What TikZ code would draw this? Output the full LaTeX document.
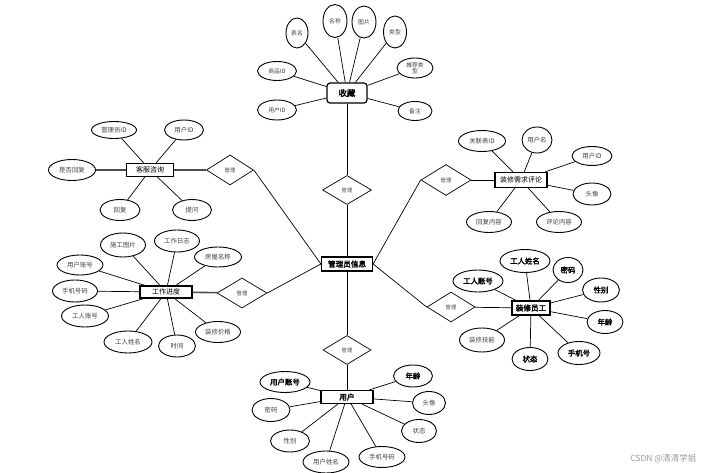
\documentclass[tikz,border=0pt]{standalone}
\usepackage{fontspec}
\setmainfont{Noto Sans CJK SC}[AutoFakeBold=2.5]
\usetikzlibrary{shapes.geometric}
\tikzset{
  el/.style={ellipse,draw=black,line width=0.9pt,inner sep=0pt,font=\fontsize{6.4}{7}\selectfont,text=black!75},
  elb/.style={el,font=\fontsize{7.4}{8}\selectfont\bfseries,text=black},
  ent/.style={rectangle,draw=black,line width=1.2pt,inner sep=0pt,font=\fontsize{7}{8}\selectfont,fill=white},
  entb/.style={ent,font=\fontsize{7.6}{8}\selectfont\bfseries},
  rel/.style={diamond,draw=black,line width=0.7pt,inner sep=0pt,font=\fontsize{5.4}{6}\selectfont,text=black!70,fill=white},
  ln/.style={draw=black,line width=0.7pt},
  lnt/.style={draw=black!70,line width=1.6pt},
}
\begin{document}
\begin{tikzpicture}[x=1pt,y=-1pt]
\useasboundingbox (0,0) rectangle (705,473);
% central
\node[entb,minimum width=51pt,minimum height=14pt] (adm) at (347,264) {管理员信息};
% ---------- 收藏
\node[entb,rounded corners=3pt,minimum width=40pt,minimum height=20pt,font=\fontsize{8.4}{9}\selectfont\bfseries] (sc) at (347,93) {收藏};
\node[rel,minimum width=49pt,minimum height=29pt] (d1) at (347,190) {管理};
\node[el,minimum width=22pt,minimum height=30pt,font=\fontsize{5.8}{6}\selectfont] (sc1) at (297,33) {表名};
\node[el,minimum width=24pt,minimum height=33pt,font=\fontsize{5.8}{6}\selectfont] (sc2) at (335,21) {名称};
\node[el,minimum width=24pt,minimum height=32pt,font=\fontsize{5.8}{6}\selectfont] (sc3) at (364,22) {图片};
\node[el,minimum width=23pt,minimum height=32pt,font=\fontsize{5.8}{6}\selectfont] (sc4) at (395,32) {类型};
\node[el,minimum width=36pt,minimum height=20pt,align=center,font=\fontsize{5.8}{6}\selectfont] (sc5) at (415,68) {推荐类\\型};
\node[el,minimum width=34pt,minimum height=19pt,font=\fontsize{5.8}{6}\selectfont] (sc6) at (415,111) {备注};
\node[el,minimum width=39pt,minimum height=19pt,font=\fontsize{5.8}{6}\selectfont] (sc7) at (277,71) {商品ID};
\node[el,minimum width=39pt,minimum height=20pt,font=\fontsize{5.8}{6}\selectfont] (sc8) at (277,110) {用户ID};
\foreach \a in {sc1,sc2,sc3,sc4,sc5,sc6,sc7,sc8} \draw[ln] (\a) -- (sc);
\draw[ln] (sc) -- (d1) -- (adm);
% ---------- 客服咨询
\node[ent,minimum width=47pt,minimum height=13pt] (kf) at (150,170) {客服咨询};
\node[rel,minimum width=47pt,minimum height=30pt] (d2) at (230,170) {管理};
\node[el,minimum width=45pt,minimum height=17pt] (kf1) at (114,130) {管理员ID};
\node[el,minimum width=39pt,minimum height=20pt] (kf2) at (184,130) {用户ID};
\node[el,minimum width=47pt,minimum height=21pt] (kf3) at (72,170) {是否回复};
\node[el,minimum width=40pt,minimum height=21pt] (kf4) at (120,210) {回复};
\node[el,minimum width=39pt,minimum height=21pt] (kf5) at (192,210) {提问};
\foreach \a in {kf1,kf2,kf4,kf5} \draw[ln] (\a) -- (kf);
\draw[lnt] (kf3) -- (kf);
\draw[lnt] (kf) -- (d2);
\draw[ln] (d2.east) -- (adm.west);
% ---------- 装修需求评论
\node[ent,minimum width=52pt,minimum height=15pt] (pl) at (521,180) {装修需求评论};
\node[rel,minimum width=50pt,minimum height=31pt] (d3) at (446,180) {管理};
\node[el,minimum width=47pt,minimum height=21pt] (pl1) at (482,141) {关联表ID};
\node[el,minimum width=30pt,minimum height=26pt] (pl2) at (537,140) {用户名};
\node[el,minimum width=40pt,minimum height=19pt] (pl3) at (592,156) {用户ID};
\node[el,minimum width=38pt,minimum height=22pt] (pl4) at (592,194) {头像};
\node[el,minimum width=45pt,minimum height=21pt] (pl5) at (489,222) {回复内容};
\node[el,minimum width=45pt,minimum height=21pt] (pl6) at (559,222) {评论内容};
\foreach \a in {pl1,pl2,pl3,pl4,pl5,pl6} \draw[ln] (\a) -- (pl);
\draw[ln] (d3) -- (pl);
\draw[ln] (adm.east) -- (d3.west);
% ---------- 工作进度
\node[ent,minimum width=52pt,minimum height=12pt] (gz) at (166,292) {工作进度};
\node[rel,minimum width=50pt,minimum height=30pt] (d4) at (242,293) {管理};
\node[el,minimum width=45pt,minimum height=24pt] (gz1) at (123,245) {施工图片};
\node[el,minimum width=45pt,minimum height=22pt] (gz2) at (177,241) {工作日志};
\node[el,minimum width=47pt,minimum height=20pt] (gz3) at (218,257) {房屋名称};
\node[el,minimum width=46pt,minimum height=20pt] (gz4) at (80,265) {用户账号};
\node[el,minimum width=45pt,minimum height=22pt] (gz5) at (75,291) {手机号码};
\node[el,minimum width=47pt,minimum height=22pt] (gz6) at (85,316) {工人账号};
\node[el,minimum width=48pt,minimum height=22pt] (gz7) at (128,342) {工人姓名};
\node[el,minimum width=37pt,minimum height=22pt] (gz8) at (177,346) {时间};
\node[el,minimum width=45pt,minimum height=21pt] (gz9) at (218,332) {装修价格};
\foreach \a in {gz1,gz2,gz3,gz4,gz5,gz6,gz7,gz8,gz9} \draw[ln] (\a) -- (gz);
\draw[lnt] (gz) -- (d4);
\draw[ln] (d4.east) -- (adm.west);
% ---------- 装修员工
\node[entb,minimum width=38pt,minimum height=14pt] (yg) at (531,308) {装修员工};
\node[rel,minimum width=48pt,minimum height=30pt] (d5) at (451,307) {管理};
\node[elb,minimum width=50pt,minimum height=23pt] (yg1) at (525,261) {工人姓名};
\node[elb,minimum width=50pt,minimum height=22pt] (yg2) at (478,281) {工人账号};
\node[elb,minimum width=30pt,minimum height=25pt] (yg3) at (568,270) {密码};
\node[elb,minimum width=37pt,minimum height=24pt] (yg4) at (601,290) {性别};
\node[elb,minimum width=36pt,minimum height=23pt] (yg5) at (605,322) {年龄};
\node[elb,minimum width=42pt,minimum height=23pt] (yg6) at (579,353) {手机号};
\node[elb,minimum width=36pt,minimum height=23pt] (yg7) at (530,359) {状态};
\node[el,minimum width=45pt,minimum height=24pt] (yg8) at (482,340) {装修技能};
\foreach \a in {yg1,yg2,yg3,yg4,yg5,yg6,yg7,yg8} \draw[ln] (\a) -- (yg);
\draw[ln] (d5) -- (yg);
\draw[ln] (adm.east) -- (d5.west);
% ---------- 用户
\node[entb,minimum width=52pt,minimum height=13pt] (yh) at (347,397) {用户};
\node[rel,minimum width=48pt,minimum height=29pt] (d6) at (347,350) {管理};
\node[elb,minimum width=50pt,minimum height=21pt] (yh1) at (285,382) {用户账号};
\node[el,minimum width=38pt,minimum height=23pt] (yh2) at (271,410) {密码};
\node[el,minimum width=39pt,minimum height=22pt] (yh3) at (290,441) {性别};
\node[el,minimum width=46pt,minimum height=22pt] (yh4) at (326,462) {用户姓名};
\node[el,minimum width=46pt,minimum height=21pt] (yh5) at (382,457) {手机号码};
\node[elb,minimum width=39pt,minimum height=22pt] (yh6) at (413,376) {年龄};
\node[el,minimum width=33pt,minimum height=23pt] (yh7) at (429,403) {头像};
\node[el,minimum width=35pt,minimum height=23pt] (yh8) at (419,431) {状态};
\foreach \a in {yh1,yh2,yh3,yh4,yh5,yh6,yh7,yh8} \draw[ln] (\a) -- (yh);
\draw[ln] (adm) -- (d6) -- (yh);
% watermark
\node[font=\fontsize{8.5}{9}\selectfont,text=black!40,anchor=east] (wm) at (700,459) {CSDN @清清学姐};
\end{tikzpicture}
\end{document}
